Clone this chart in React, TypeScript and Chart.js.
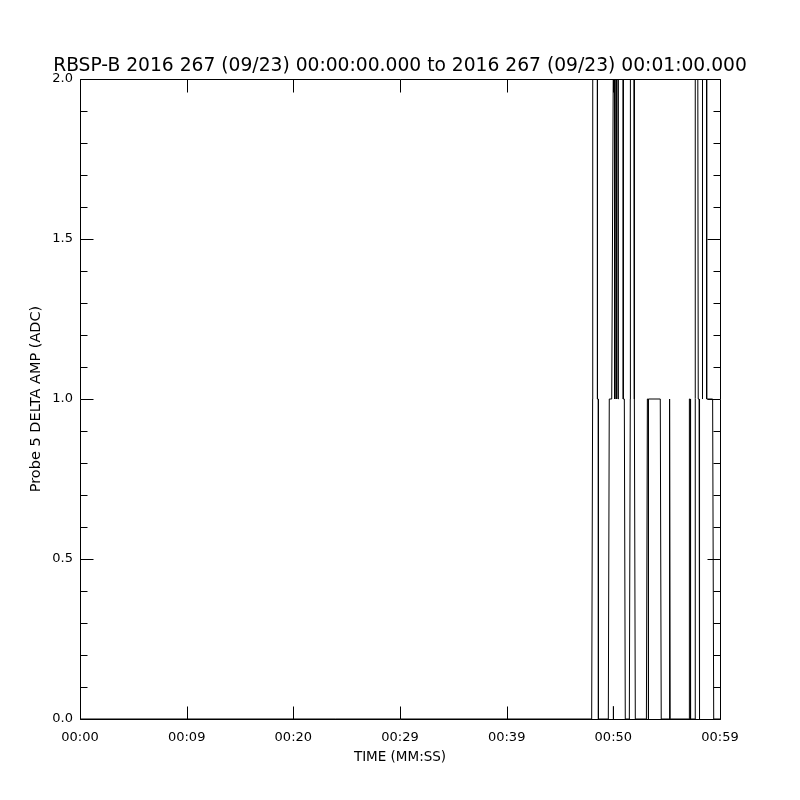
import React, { useEffect, useRef } from "react";
import { Chart, registerables } from "chart.js";

Chart.register(...registerables);

const titleText = "RBSP-B 2016 267 (09/23) 00:00:00.000 to 2016 267 (09/23) 00:01:00.000";
const xAxisTitle = "TIME (MM:SS)";
const yAxisTitle = "Probe 5 DELTA AMP (ADC)";

const xTickValues = [0, 10, 20, 30, 40, 50, 60];
const xTickLabels = ["00:00", "00:09", "00:20", "00:29", "00:39", "00:50", "00:59"];
const yMajorTicks = [0, 0.5, 1, 1.5, 2];
const yMinorTicks = [0.1, 0.2, 0.3, 0.4, 0.6, 0.7, 0.8, 0.9, 1.1, 1.2, 1.3, 1.4, 1.6, 1.7, 1.8, 1.9];

// time in seconds after 00:00:00, amplitude in ADC counts (values above 2 are clipped)
const timeSec = [
  0, 47.97, 48.06, 48.07, 48.5, 48.51, 48.59, 48.6, 49.53, 49.62, 49.85, 49.99, 50.0,
  50.11, 50.12, 50.15, 50.16, 50.26, 50.27, 50.3, 50.31, 50.43, 50.44, 50.46, 50.47,
  50.92, 50.93, 51.03, 51.12, 51.5, 51.59, 51.6, 51.93, 51.94, 51.97, 52.06,
  53.1, 53.19, 53.27, 53.28, 53.29, 53.3, 54.4, 54.49, 55.24, 55.25, 55.3, 55.33,
  57.12, 57.13, 57.21, 57.24, 57.67, 57.68, 57.9, 57.92, 57.96, 58.04, 58.08,
  58.2, 58.35, 58.36, 58.74, 58.75, 59.31, 59.41, 60,
];
const ampAdc = [
  0, 0, 1, 3, 3, 1, 1, 0, 0, 1, 1, 2, 3,
  3, 1, 1, 3, 3, 1, 1, 3, 3, 1, 1, 3,
  3, 1, 1, 0, 0, 1, 3, 3, 2, 1, 0,
  0, 1, 1, 0, 0, 1, 1, 0, 0, 1, 1, 0,
  0, 1, 1, 0, 0, 3, 3, 2, 1, 1, 0,
  null, 1, 3, 3, 1, 1, 0, 0,
];
const spikeTime = [50.0, 50.0];
const spikeAmp = [0, 0.04];

const FONT = "'DejaVu Sans', sans-serif";

const idlFrame = {
  id: "idlFrame",
  afterDatasetsDraw(chart: any) {
    const { ctx, chartArea: a, scales } = chart;
    const xs = scales.x;
    const ys = scales.y;
    const L = Math.round(a.left) + 0.5;
    const R = Math.round(a.right) + 0.5;
    const T = Math.round(a.top) + 0.5;
    const B = Math.round(a.bottom) + 0.5;
    ctx.save();
    ctx.strokeStyle = "#000";
    ctx.lineWidth = 1;
    ctx.beginPath();
    ctx.rect(L, T, R - L, B - T);
    const yTick = (v: number, len: number) => {
      const p = Math.round(ys.getPixelForValue(v)) + 0.5;
      ctx.moveTo(L, p);
      ctx.lineTo(L + len, p);
      ctx.moveTo(R, p);
      ctx.lineTo(R - len, p);
    };
    yMajorTicks.forEach((v) => yTick(v, 13));
    yMinorTicks.forEach((v) => yTick(v, 7));
    xTickValues.forEach((v) => {
      const p = Math.round(xs.getPixelForValue(v)) + 0.5;
      ctx.moveTo(p, B);
      ctx.lineTo(p, B - 13);
      ctx.moveTo(p, T);
      ctx.lineTo(p, T + 13);
    });
    ctx.stroke();
    ctx.restore();
  },
};

export default function App() {
  const ref = useRef<HTMLCanvasElement | null>(null);

  useEffect(() => {
    if (!ref.current) return;
    const chart = new Chart(ref.current, {
      type: "line",
      data: {
        datasets: [
          {
            label: "Probe 5 DELTA AMP",
            data: timeSec.map((t, i) => ({ x: t, y: ampAdc[i] })),
            borderColor: "#000",
            borderWidth: 1,
            pointRadius: 0,
            tension: 0,
            spanGaps: false,
            fill: false,
          },
          {
            label: "spike",
            data: spikeTime.map((t, i) => ({ x: t, y: spikeAmp[i] })),
            borderColor: "#000",
            borderWidth: 1,
            pointRadius: 0,
            fill: false,
          },
        ],
      },
      options: {
        animation: false,
        responsive: false,
        devicePixelRatio: 1,
        layout: { padding: 0 },
        plugins: {
          legend: { display: false },
          tooltip: { enabled: false },
          title: {
            display: true,
            text: titleText,
            color: "#000",
            font: { family: FONT, size: 18.7, weight: "normal", lineHeight: 1.2 },
            padding: { top: 54.5, bottom: 2.06 },
          },
        },
        scales: {
          x: {
            type: "linear",
            min: 0,
            max: 60,
            grid: { display: false, drawTicks: false },
            border: { display: false },
            afterBuildTicks: (s: any) => {
              s.ticks = xTickValues.map((v) => ({ value: v }));
            },
            afterFit: (s: any) => {
              s.height = 81;
            },
            ticks: {
              autoSkip: false,
              maxRotation: 0,
              padding: 11,
              color: "#000",
              font: { family: FONT, size: 13, lineHeight: 1.2 },
              callback: (v: any) => {
                const i = xTickValues.indexOf(Number(v));
                return i >= 0 ? xTickLabels[i] : "";
              },
            },
            title: {
              display: true,
              text: xAxisTitle,
              color: "#000",
              font: { family: FONT, size: 13.5, lineHeight: 1.2 },
              padding: { top: 0, bottom: 34.5 },
            },
          },
          y: {
            type: "linear",
            min: 0,
            max: 2,
            grid: { display: false, drawTicks: false },
            border: { display: false },
            afterBuildTicks: (s: any) => {
              s.ticks = yMajorTicks.map((v) => ({ value: v }));
            },
            afterFit: (s: any) => {
              s.width = 80;
            },
            ticks: {
              padding: 7,
              color: "#000",
              font: { family: FONT, size: 13, lineHeight: 1.2 },
              callback: (v: any) => Number(v).toFixed(1),
            },
            title: {
              display: true,
              text: yAxisTitle,
              color: "#000",
              font: { family: FONT, size: 14.5, lineHeight: 1.2 },
              padding: { top: 28, bottom: 0 },
            },
          },
          yRight: {
            type: "linear",
            position: "right",
            min: 0,
            max: 2,
            grid: { display: false, drawTicks: false },
            border: { display: false },
            ticks: { display: false },
            afterFit: (s: any) => {
              s.width = 80;
            },
          },
        },
      },
      plugins: [idlFrame],
    });
    return () => chart.destroy();
  }, []);

  return (
    <div style={{ position: "absolute", left: 0, top: 0, width: 800, height: 800, background: "#fff" }}>
      <canvas ref={ref} width={800} height={800} style={{ width: 800, height: 800, display: "block" }} />
    </div>
  );
}
